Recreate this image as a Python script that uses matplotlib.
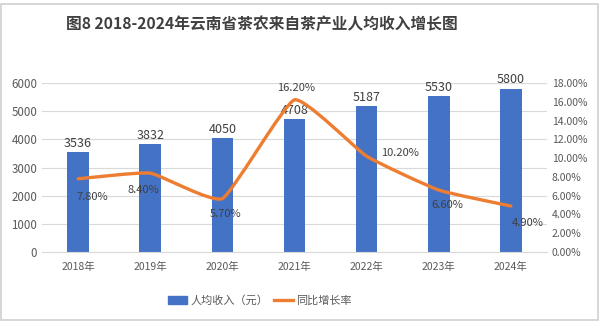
import numpy as np
import matplotlib.pyplot as plt
from matplotlib.path import Path
from matplotlib.patches import PathPatch, Rectangle
from matplotlib.lines import Line2D
from matplotlib.ticker import FuncFormatter

plt.rcParams['font.family'] = ['Noto Sans CJK SC', 'DejaVu Sans']

years = ['2018年', '2019年', '2020年', '2021年', '2022年', '2023年', '2024年']
income = [3536, 3832, 4050, 4708, 5187, 5530, 5800]
growth = [7.8, 8.4, 5.7, 16.2, 10.2, 6.6, 4.9]  # percent

blue = '#4472C4'
orange = '#ED7D31'
grid_c = '#D9D9D9'
tick_c = '#595959'

fig = plt.figure(figsize=(6.01, 3.24), dpi=100)
fig.patches.append(Rectangle((0.002, 0.012), 0.993, 0.975, transform=fig.transFigure,
                             fill=False, edgecolor='#D0D0D0', linewidth=1.2))

ax = fig.add_axes([0.070, 0.222, 0.840, 0.522])
x = np.arange(len(years))

bars = ax.bar(x, income, width=0.3, color=blue, zorder=2)
ax.set_xlim(-0.5, len(years) - 0.5)
ax.set_ylim(0, 6000)
ax.set_yticks(range(0, 6001, 1000))
ax.grid(axis='y', color=grid_c, linewidth=0.8, zorder=0)
ax.set_axisbelow(True)
for s in ['top', 'right', 'left']:
    ax.spines[s].set_visible(False)
ax.spines['bottom'].set_color(grid_c)
ax.tick_params(length=0, colors=tick_c, labelsize=7.5)
ax.tick_params(axis='y', labelsize=8.3)
ax.tick_params(axis='x', pad=7)
ax.set_xticks(x)
ax.set_xticklabels(years)

for xi, v in zip(x, income):
    ax.annotate(str(v), (xi, v), xytext=(0, 1.5), textcoords='offset points',
                ha='center', va='bottom', fontsize=9, color='#404040', zorder=5)

ax2 = ax.twinx()
ax2.set_ylim(0, 18)
ax2.set_yticks(np.arange(0, 18.01, 2))
ax2.yaxis.set_major_formatter(FuncFormatter(lambda v, p: f'{v:.2f}%'))
for s in ax2.spines.values():
    s.set_visible(False)
ax2.tick_params(length=0, colors=tick_c, labelsize=7.5)

# smoothed line (cubic Bezier segments, mild tension)
pts = np.column_stack([x, growth]).astype(float)
verts = [tuple(pts[0])]
codes = [Path.MOVETO]
n = len(pts)
k = 0.07
for i in range(n - 1):
    p0 = pts[max(i - 1, 0)]
    p1 = pts[i]
    p2 = pts[i + 1]
    p3 = pts[min(i + 2, n - 1)]
    c1 = p1 + (p2 - p0) * k
    c2 = p2 - (p3 - p1) * k
    verts += [tuple(c1), tuple(c2), tuple(p2)]
    codes += [Path.CURVE4] * 3
ax2.add_patch(PathPatch(Path(verts, codes), fill=False, edgecolor=orange,
                        linewidth=2.4, capstyle='round', joinstyle='round', zorder=3))

label_offsets = [(10, -13), (-5, -12), (2, -11), (1, 5), (24, 2), (6, -11), (12, -12)]
for xi, g, off in zip(x, growth, label_offsets):
    ax2.annotate(f'{g:.2f}%', (xi, g), xytext=off, textcoords='offset points',
                 ha='center', va='center' if off[1] < 5 else 'bottom',
                 fontsize=8, color='#404040', zorder=5)

fig.text(0.436, 0.925, '图8 2018-2024年云南省茶农来自茶产业人均收入增长图',
         ha='center', va='center', fontsize=11.3, fontweight='bold', color='#404040')

handles = [Rectangle((0, 0), 1, 1, color=blue), Line2D([0], [0], color=orange, linewidth=2.4)]
fig.legend(handles, ['人均收入（元）', '同比增长率'], loc='center', bbox_to_anchor=(0.433, 0.072),
           ncol=2, frameon=False, fontsize=8, handlelength=1.7, handleheight=0.7,
           columnspacing=0.5, handletextpad=0.3, labelcolor=tick_c)

fig.savefig('out.png', dpi=100)
